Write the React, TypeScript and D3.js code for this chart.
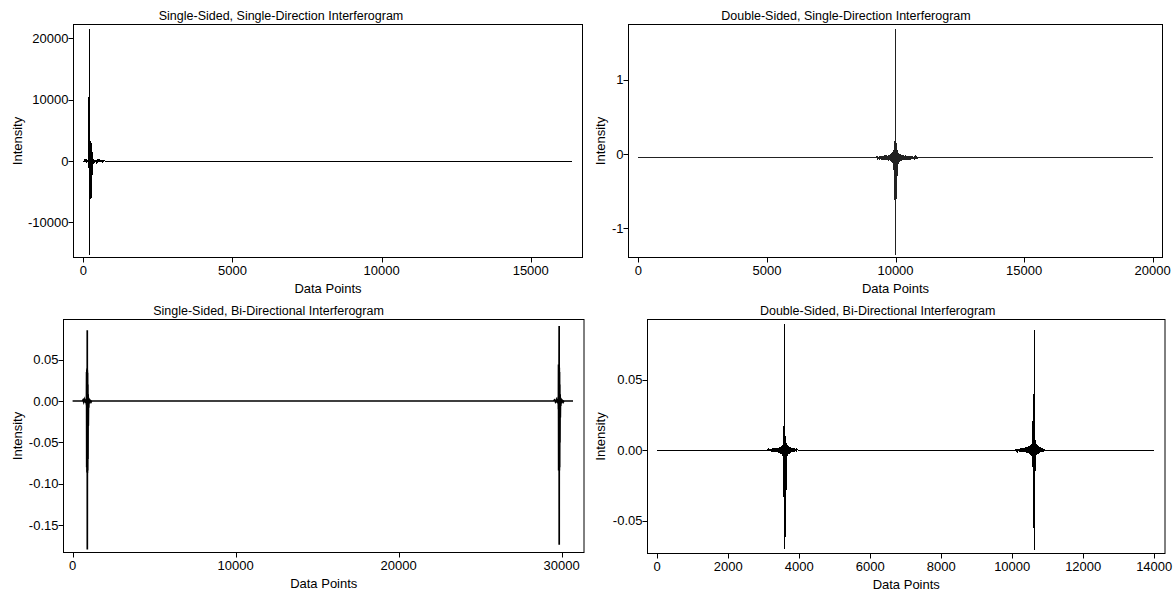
import React from 'react';
import * as d3 from 'd3';

type Pt = [number, number];

// ---- Data (data point index, intensity) ----
const ssSdSignal: Pt[] = [
  [0, 0], [20, -110], [40, 130], [60, -150], [80, 160], [100, -170], [120, 180], [140, -190],
  [150, 220], [160, -260], [168, 400], [174, -600],
  [180, 10200], [186, -1200], [192, 10400], [198, -1500], [204, 10500], [210, -1800], [216, 10600],
  [220, 21480], [223, -15330], [227, 3260], [232, -6250], [238, 3200], [244, -6200],
  [250, 3100], [256, -6100], [262, 3000], [268, -6000], [274, 2900], [280, -2820],
  [286, 2600], [292, -2700], [300, 1500], [308, -1500], [318, 700], [328, -500],
  [345, 250], [365, -230], [385, 210], [405, -200], [425, 190],
  [445, -180], [465, 170], [485, -160], [505, 150], [525, -140], [545, 130], [565, -120],
  [585, 110], [605, -100], [625, 100], [645, -90], [665, 90], [685, -80], [705, 60],
  [725, 0], [16383, 0],
];

const dsSdSignal: Pt[] = [
  [0, -0.05], [9240, -0.05], [9265, -0.035], [9290, -0.065], [9315, -0.03], [9340, -0.07],
  [9365, -0.028], [9390, -0.074], [9415, -0.025], [9440, -0.076], [9465, -0.024], [9490, -0.078],
  [9515, -0.022], [9540, -0.08], [9565, -0.02], [9590, -0.082], [9615, -0.018], [9640, -0.084],
  [9665, -0.016], [9690, -0.086], [9715, -0.012], [9740, -0.09], [9765, -0.008], [9790, -0.095],
  [9810, 0.0], [9830, -0.1], [9850, 0.01], [9865, -0.11], [9880, 0.02], [9895, -0.12],
  [9910, 0.03], [9920, -0.15], [9930, 0.05], [9940, -0.22], [9948, 0.1], [9956, -0.31],
  [9964, 0.15], [9972, -0.62], [9980, 0.17], [9988, -0.64], [9995, 0.17], [10000, 1.68], [10004, -1.36],
  [10010, 0.17], [10017, -0.64], [10024, 0.15], [10031, -0.6], [10038, 0.12], [10045, -0.31],
  [10053, 0.08], [10062, -0.3], [10072, 0.05], [10082, -0.18], [10095, 0.02], [10110, -0.13],
  [10125, 0.01], [10140, -0.11], [10155, 0.0], [10170, -0.1], [10185, -0.005], [10200, -0.095],
  [10225, -0.012], [10250, -0.09], [10275, -0.015], [10300, -0.086], [10325, -0.018], [10350, -0.084],
  [10375, -0.02], [10400, -0.082], [10425, -0.022], [10450, -0.08], [10475, -0.024], [10500, -0.078],
  [10525, -0.025], [10550, -0.076], [10575, -0.027], [10600, -0.074], [10625, -0.03], [10650, -0.07],
  [10675, -0.032], [10700, -0.068], [10725, -0.034], [10750, -0.066], [10775, -0.036], [10800, -0.064],
  [10825, -0.04], [10850, -0.06], [10870, -0.05], [20000, -0.05],
];

const ssBdSignal: Pt[] = [
  [0, 0], [600, 0], [640, 0.0012], [680, -0.0012], [720, 0.0016], [760, -0.0016], [790, 0.002],
  [815, -0.0025], [835, 0.003], [850, -0.005], [858, 0.035], [866, -0.08], [874, 0.038],
  [882, -0.086], [890, 0.0399], [896, -0.087], [900, 0.0853], [903, -0.1795], [908, 0.037],
  [915, -0.087], [922, 0.034], [930, -0.084], [938, 0.02], [946, -0.07], [955, 0.008],
  [965, -0.03], [978, 0.004], [992, -0.008], [1010, 0.003], [1030, -0.003], [1055, 0.002],
  [1080, -0.002], [1110, 0.001], [1140, -0.001], [1170, 0],
  [29500, 0], [29560, 0.0012], [29620, -0.0012], [29680, 0.0016], [29720, -0.002], [29750, 0.0025],
  [29775, -0.003], [29795, 0.005], [29805, -0.01], [29812, 0.044], [29820, -0.084], [29828, 0.042],
  [29836, -0.083], [29844, 0.04], [29850, 0.0904], [29853, -0.1735], [29858, 0.04], [29866, -0.084],
  [29874, 0.035], [29882, -0.08], [29890, 0.02], [29900, -0.05], [29910, 0.008], [29922, -0.02],
  [29935, 0.004], [29950, -0.006], [29970, 0.003], [29995, -0.003], [30020, 0.002], [30050, -0.002],
  [30080, 0.001], [30110, -0.001], [30140, 0], [30700, 0],
];

const dsBdSignal: Pt[] = [
  [0, 0], [3090, 0], [3105, 0.0004], [3120, -0.0005], [3135, 0.0006], [3150, -0.0007], [3165, 0.0008],
  [3180, -0.0008], [3195, 0.0009], [3210, -0.001], [3225, 0.001], [3240, -0.0011], [3255, 0.0011],
  [3270, -0.0012], [3285, 0.0012], [3300, -0.0013], [3315, 0.0013], [3330, -0.0014], [3345, 0.0014],
  [3360, -0.0015], [3375, 0.0015], [3390, -0.0016], [3405, 0.0016], [3420, -0.0018], [3435, 0.0018],
  [3450, -0.002], [3465, 0.0022], [3480, -0.0025], [3495, 0.0028], [3510, -0.003], [3522, 0.0035],
  [3534, -0.004], [3545, 0.0045], [3555, -0.006], [3562, 0.008], [3568, -0.033], [3573, 0.0229],
  [3577, -0.033], [3580, 0.0891], [3583, -0.0702], [3587, 0.02], [3592, -0.062], [3597, 0.015],
  [3602, -0.062], [3608, 0.01], [3614, -0.033], [3620, 0.007], [3628, -0.032], [3636, 0.005],
  [3645, -0.012], [3655, 0.004], [3665, -0.0045], [3678, 0.0035], [3690, -0.003], [3705, 0.0028],
  [3720, -0.0025], [3735, 0.0022], [3750, -0.002], [3765, 0.0018], [3780, -0.0016], [3795, 0.0015],
  [3810, -0.0014], [3825, 0.0013], [3840, -0.0012], [3855, 0.0011], [3870, -0.001], [3885, 0.0009],
  [3900, -0.0008], [3915, 0.0007], [3930, -0.0006], [3945, 0.0004], [3960, 0],
  [10090, 0], [10105, 0.0004], [10120, -0.0005], [10135, 0.0006], [10150, -0.0007], [10165, 0.0008],
  [10180, -0.0009], [10195, 0.001], [10210, -0.001], [10225, 0.0011], [10240, -0.0012], [10255, 0.0012],
  [10270, -0.0013], [10285, 0.0014], [10300, -0.0014], [10315, 0.0015], [10330, -0.0016], [10345, 0.0016],
  [10360, -0.0017], [10375, 0.0018], [10390, -0.0019], [10405, 0.002], [10420, -0.0021], [10435, 0.0022],
  [10450, -0.0024], [10465, 0.0026], [10480, -0.0028], [10495, 0.003], [10510, -0.0033], [10525, 0.0036],
  [10540, -0.004], [10553, 0.0045], [10564, -0.006], [10572, 0.009], [10579, -0.012], [10585, 0.0206],
  [10592, -0.0243], [10598, 0.0395], [10604, -0.0555], [10610, 0.0206], [10615, -0.0243],
  [10620, 0.0851], [10623, -0.0709], [10628, 0.0206], [10634, -0.0243], [10640, 0.012], [10648, -0.015],
  [10656, 0.007], [10665, -0.008], [10678, 0.004], [10690, -0.0036], [10705, 0.0033], [10720, -0.003],
  [10735, 0.0028], [10750, -0.0025], [10765, 0.0022], [10780, -0.002], [10795, 0.0018], [10810, -0.0016],
  [10825, 0.0014], [10840, -0.0013], [10855, 0.0011], [10870, -0.001], [10885, 0.0008], [10900, -0.0006],
  [10915, 0.0004], [10930, 0], [14000, 0],
];

const ssSdXTicks = [0, 5000, 10000, 15000];
const ssSdYTicks = [20000, 10000, 0, -10000];
const dsSdXTicks = [0, 5000, 10000, 15000, 20000];
const dsSdYTicks = [1, 0, -1];
const ssBdXTicks = [0, 10000, 20000, 30000];
const ssBdYTicks = [0.05, 0, -0.05, -0.1, -0.15];
const dsBdXTicks = [0, 2000, 4000, 6000, 8000, 10000, 12000, 14000];
const dsBdYTicks = [0.05, 0, -0.05];

const titles = [
  'Single-Sided, Single-Direction Interferogram',
  'Double-Sided, Single-Direction Interferogram',
  'Single-Sided, Bi-Directional Interferogram',
  'Double-Sided, Bi-Directional Interferogram',
];
const xLabel = 'Data Points';
const yLabel = 'Intensity';

const FONT = '"Liberation Sans", Arial, sans-serif';
const TICK_FS = 13;
const LABEL_FS = 13;
const TITLE_FS = 12.5;

interface PanelCfg {
  id: string;
  title: string;
  data: Pt[];
  xTicks: number[];
  yTicks: number[];
  yFmt: (v: number) => string;
  frame: { x0: number; y0: number; x1: number; y1: number };
  xDomain: [number, number];
  yDomain: [number, number];
  titleX: number;
  yLabelX: number;
  stroke: string;
  strokeWidth: number;
  crisp: boolean;
}

const intFmt = (v: number) => String(v);
const decFmt = (v: number) => (Math.abs(v) < 1e-12 ? 0 : v).toFixed(2);

const panels: PanelCfg[] = [
  {
    id: 'p1', title: titles[0], data: ssSdSignal, xTicks: ssSdXTicks, yTicks: ssSdYTicks, yFmt: intFmt,
    frame: { x0: 73.5, y0: 24.5, x1: 582.5, y1: 257.5 },
    xDomain: [-328, 16735], yDomain: [-15742, 22267], titleX: 281, yLabelX: 17,
    stroke: '#000', strokeWidth: 1, crisp: true,
  },
  {
    id: 'p2', title: titles[1], data: dsSdSignal, xTicks: dsSdXTicks, yTicks: dsSdYTicks, yFmt: intFmt,
    frame: { x0: 628.5, y0: 24.5, x1: 1162.5, y1: 257.5 },
    xDomain: [-381, 20381], yDomain: [-1.395, 1.745], titleX: 846, yLabelX: 600.7,
    stroke: '#222', strokeWidth: 1, crisp: true,
  },
  {
    id: 'p3', title: titles[2], data: ssBdSignal, xTicks: ssBdXTicks, yTicks: ssBdYTicks, yFmt: decFmt,
    frame: { x0: 63.5, y0: 319.5, x1: 584, y1: 552.5 },
    xDomain: [-558, 31374], yDomain: [-0.183, 0.0984], titleX: 268.5, yLabelX: 17,
    stroke: '#000', strokeWidth: 1.7, crisp: false,
  },
  {
    id: 'p4', title: titles[3], data: dsBdSignal, xTicks: dsBdXTicks, yTicks: dsBdYTicks, yFmt: decFmt,
    frame: { x0: 647.5, y0: 319.5, x1: 1165, y1: 553.5 },
    xDomain: [-273, 14304], yDomain: [-0.0734, 0.0926], titleX: 877.7, yLabelX: 600.7,
    stroke: '#000', strokeWidth: 1, crisp: true,
  },
];

function Panel({ cfg }: { cfg: PanelCfg }) {
  const { frame } = cfg;
  const x = d3.scaleLinear().domain(cfg.xDomain).range([frame.x0, frame.x1]);
  const y = d3.scaleLinear().domain(cfg.yDomain).range([frame.y1, frame.y0]);
  const line = d3.line<Pt>().x((d) => x(d[0])).y((d) => y(d[1]));
  const cx = (frame.x0 + frame.x1) / 2;
  const cy = (frame.y0 + frame.y1) / 2;
  return (
    <g>
      <defs>
        <clipPath id={`clip-${cfg.id}`}>
          <rect x={frame.x0} y={frame.y0} width={frame.x1 - frame.x0} height={frame.y1 - frame.y0} />
        </clipPath>
      </defs>
      <text x={cfg.titleX} y={frame.y0 - 5} textAnchor="middle" fontSize={TITLE_FS} fontFamily={FONT} fill="#000">
        {cfg.title}
      </text>
      <path
        d={line(cfg.data) || ''}
        fill="none"
        stroke={cfg.stroke}
        strokeWidth={cfg.strokeWidth}
        shapeRendering={cfg.crisp ? 'crispEdges' : 'auto'}
        clipPath={`url(#clip-${cfg.id})`}
      />
      <rect
        x={frame.x0}
        y={frame.y0}
        width={frame.x1 - frame.x0}
        height={frame.y1 - frame.y0}
        fill="none"
        stroke="#000"
        strokeWidth={1}
      />
      {cfg.yTicks.map((t) => (
        <g key={`y${t}`}>
          <line x1={frame.x0 - 5} x2={frame.x0} y1={Math.round(y(t)) + 0.5} y2={Math.round(y(t)) + 0.5} stroke="#000" />
          <text x={frame.x0 - 5} y={y(t)} dy="0.35em" textAnchor="end" fontSize={TICK_FS} fontFamily={FONT} fill="#000">
            {cfg.yFmt(t)}
          </text>
        </g>
      ))}
      {cfg.xTicks.map((t) => (
        <g key={`x${t}`}>
          <line x1={Math.round(x(t)) + 0.5} x2={Math.round(x(t)) + 0.5} y1={frame.y1} y2={frame.y1 + 5} stroke="#000" />
          <text x={x(t)} y={frame.y1 + 17.5} textAnchor="middle" fontSize={TICK_FS} fontFamily={FONT} fill="#000">
            {String(t)}
          </text>
        </g>
      ))}
      <text x={cx} y={frame.y1 + 35.5} textAnchor="middle" fontSize={LABEL_FS} fontFamily={FONT} fill="#000">
        {xLabel}
      </text>
      <text
        transform={`translate(${cfg.yLabelX},${cy}) rotate(-90)`}
        dy="0.35em"
        textAnchor="middle"
        fontSize={LABEL_FS}
        fontFamily={FONT}
        fill="#000"
      >
        {yLabel}
      </text>
    </g>
  );
}

export default function App() {
  return (
    <svg
      width={1173}
      height={595}
      style={{ position: 'absolute', left: 0, top: 0, background: '#fff' }}
    >
      <rect x={0} y={0} width={1173} height={595} fill="#fff" />
      {panels.map((p) => (
        <Panel key={p.id} cfg={p} />
      ))}
    </svg>
  );
}
